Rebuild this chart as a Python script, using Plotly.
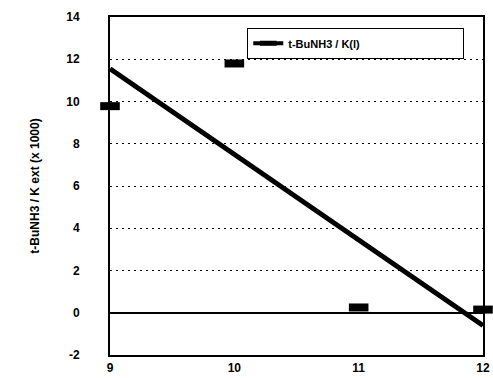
import plotly.graph_objects as go

# data points
pt_x = [9.0, 10.0, 11.0, 12.0]
pt_y = [9.78, 11.8, 0.25, 0.15]
# fitted trend line end points
line_x = [9.0, 12.0]
line_y = [11.55, -0.6]
series_name = "t-BuNH3 / K(l)"
y_title = "t-BuNH3 / K ext (x 1000)"
x_ticks = [9, 10, 11, 12]
y_ticks = [-2, 0, 2, 4, 6, 8, 10, 12, 14]
y_tick_labels = ["-2", "0", "2", "4", "6", "8", "10", "12", "14"]

FAM = "Liberation Sans, Arial, sans-serif"

fig = go.Figure()
fig.add_trace(go.Scatter(x=line_x, y=line_y, mode="lines",
                         line=dict(color="black", width=5), showlegend=False))
fig.add_trace(go.Scatter(x=pt_x, y=pt_y, mode="markers",
                         marker=dict(symbol="line-ew", size=14, color="black",
                                     line=dict(color="black", width=8)),
                         showlegend=False, cliponaxis=False))
fig.add_trace(go.Scatter(x=[None], y=[None], mode="lines+markers", name=series_name + "\u00a0" * 32,
                         line=dict(color="black", width=4),
                         marker=dict(symbol="line-ew", size=12, color="black",
                                     line=dict(color="black", width=7))))

fig.update_layout(
    width=493, height=378,
    margin=dict(l=110, r=3, t=17, b=19),
    plot_bgcolor="white", paper_bgcolor="white",
    font=dict(family=FAM, size=11, color="black"),
    showlegend=True,
    legend=dict(x=0.368, y=0.968, xanchor="left", yanchor="top",
                bgcolor="white", bordercolor="black", borderwidth=1,
                font=dict(family=FAM, size=11, color="black", weight="bold"),
                itemwidth=30, tracegroupgap=0),
    xaxis=dict(range=[9, 12], tickvals=x_ticks, showgrid=False, zeroline=False,
               showline=True, linecolor="black", linewidth=2, mirror=True,
               ticks="", tickfont=dict(family=FAM, size=12, color="black", weight="bold"),
               ticklabelstandoff=1, ticklabeloverflow="allow"),
    yaxis=dict(range=[-2, 14], tickvals=y_ticks, ticktext=y_tick_labels,
               showgrid=True, gridcolor="black",
               griddash="2px,4px", gridwidth=1, zeroline=True, zerolinecolor="black", zerolinewidth=1.5,
               showline=True, linecolor="black", linewidth=2, mirror=True,
               ticks="", tickfont=dict(family=FAM, size=12, color="black", weight="bold"),
               ticklabelstandoff=26,
               title=dict(text=y_title, standoff=24,
                          font=dict(family=FAM, size=12, color="black", weight="bold"))),
)
fig.write_html("out.html", config={"displayModeBar": False},
               post_script="document.body.style.margin='0';document.body.style.overflow='hidden';")
